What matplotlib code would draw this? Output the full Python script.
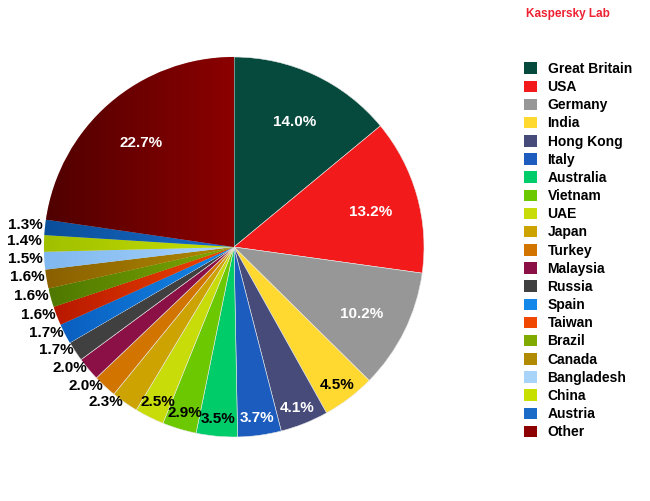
import matplotlib.pyplot as plt
import matplotlib.colors as mcolors
import matplotlib.patches as mpatches
import numpy as np

plt.rcParams['font.family'] = ['Liberation Sans', 'DejaVu Sans']
plt.rcParams['font.weight'] = 'bold'

countries = ["Great Britain", "USA", "Germany", "India", "Hong Kong", "Italy",
             "Australia", "Vietnam", "UAE", "Japan", "Turkey", "Malaysia",
             "Russia", "Spain", "Taiwan", "Brazil", "Canada", "Bangladesh",
             "China", "Austria", "Other"]
shares = [14.0, 13.2, 10.2, 4.5, 4.1, 3.7, 3.5, 2.9, 2.5, 2.3, 2.0, 2.0,
          1.7, 1.7, 1.6, 1.6, 1.6, 1.5, 1.4, 1.3, 22.7]

# main (right/light) colour of each slice
colors = ["#064a3e", "#f21a1a", "#979797", "#ffd830", "#464b7a", "#1b5cbe",
          "#00cc6a", "#6cc800", "#c8dc0a", "#cca300", "#d27400", "#8a1045",
          "#404040", "#1488e8", "#f04800", "#80aa00", "#b08a00", "#a8d4fa",
          "#c8e000", "#1a6ac8", "#8c0000"]
# darker left colour for the slices that have a gradient fill
gradient_dark = {"Spain": "#0a5fc0", "Taiwan": "#b81800", "Brazil": "#4e7800",
                 "Canada": "#8a6000", "Bangladesh": "#80b8f0", "China": "#a0c000",
                 "Austria": "#0a4f9a", "Other": "#500000"}
white_labels = {"Great Britain", "USA", "Germany", "Hong Kong", "Italy", "Other"}

W, H = 650, 501
fig = plt.figure(figsize=(W / 100, H / 100), dpi=100)

cx, cy, r = 234, 247, 190
ax = fig.add_axes([(cx - r) / W, (H - cy - r) / H, 2 * r / W, 2 * r / H])
ax.axis('off')

wedges, _ = ax.pie(shares, colors=colors, startangle=90, counterclock=False,
                   radius=1, wedgeprops=dict(edgecolor="#e8e8e8", linewidth=0.4))
ax.set_xlim(-1, 1)
ax.set_ylim(-1, 1)

# gradient fills, dark on the left, clipped to the wedge
for w, name, col in zip(wedges, countries, colors):
    if name not in gradient_dark:
        continue
    t = np.radians(np.linspace(w.theta1, w.theta2, 50))
    xs = np.concatenate([[0], np.cos(t)])
    ys = np.concatenate([[0], np.sin(t)])
    cmap = mcolors.LinearSegmentedColormap.from_list(name, [gradient_dark[name], col])
    grad = np.linspace(0, 1, 256).reshape(1, -1)
    im = ax.imshow(grad, cmap=cmap, aspect='auto',
                   extent=[xs.min(), xs.max(), ys.min(), ys.max()], zorder=w.get_zorder())
    im.set_clip_path(w)
ax.set_xlim(-1, 1)
ax.set_ylim(-1, 1)

# percentage labels
for w, name, val in zip(wedges, countries, shares):
    ang = np.radians((w.theta1 + w.theta2) / 2)
    txt = f"{val:.1f}%"
    if val >= 10:
        d = 0.75
        ax.text(d * np.cos(ang), d * np.sin(ang) - 0.02, txt, ha='center', va='center',
                fontsize=11, color='white', fontweight='bold', zorder=5)
    elif val >= 2.5:
        d = 0.9
        ax.text(d * np.cos(ang), d * np.sin(ang) - 0.01, txt, ha='center', va='center',
                fontsize=11, color='white' if name in white_labels else 'black',
                fontweight='bold', zorder=5)
    else:
        d = 1.01
        ax.text(d * np.cos(ang), d * np.sin(ang) + 0.01, txt, ha='right', va='center',
                fontsize=11, color='black', fontweight='bold', zorder=5)

handles = [mpatches.Patch(facecolor=c, edgecolor='none', label=n)
           for n, c in zip(countries, colors)]
fig.legend(handles=handles, loc='upper left', bbox_to_anchor=(524 / W, 1 - 62 / H),
           frameon=False, fontsize=10, handlelength=0.9, handleheight=0.9,
           handletextpad=0.8, labelspacing=0.3, borderpad=0, borderaxespad=0)

fig.text(568 / W, 1 - 14 / H, "Kaspersky Lab", color="#ee2233", fontsize=8.5,
         fontweight='bold', ha='center', va='center')

fig.savefig("out.png", dpi=100)
